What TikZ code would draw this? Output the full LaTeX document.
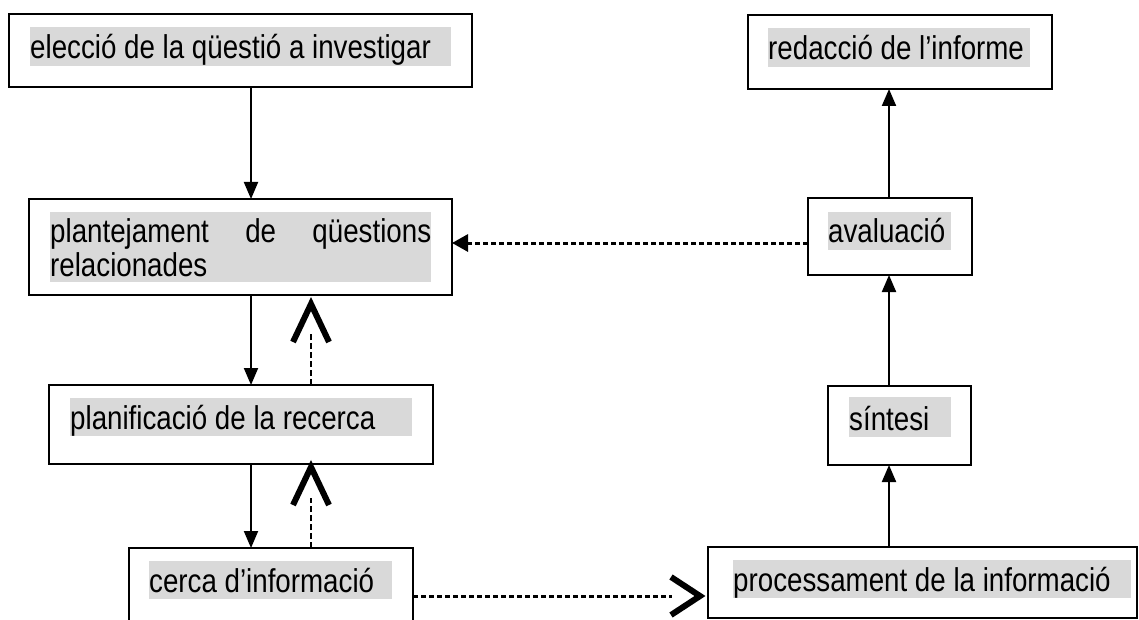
\documentclass[tikz,border=0pt]{standalone}
\usepackage{fontspec}
\setmainfont{Liberation Sans}
\newfontfamily\boxfont[FakeStretch=0.84]{Liberation Sans}
\usetikzlibrary{arrows.meta,calc}
\definecolor{hlgray}{RGB}{217,217,217}
\begin{document}
\begin{tikzpicture}[x=1pt,y=-1pt,
  box/.style={draw, line width=1.8pt, inner sep=0pt, outer sep=0pt, anchor=north west},
  txt/.style={inner sep=0pt, anchor=base west, font=\boxfont\fontsize{33}{36}\selectfont, text=black},
  hl/.style={fill=hlgray},
  sarrow/.style={line width=2pt, -{Triangle[length=17pt,width=14pt]}},
  dthin/.style={line width=1.2pt, dash pattern=on 6pt off 3pt},
  chev/.style={line width=6pt, line join=miter, line cap=butt},
  dthick/.style={line width=3pt, dash pattern=on 5pt off 3pt},
]
\useasboundingbox (0,0) rectangle (1139,620);
\clip (0,0) rectangle (1139,620);
\fill[white] (0,0) rectangle (1139,620);

% boxes
\node[box, minimum width=463pt, minimum height=73pt] (b1) at (9,14) {};
\node[box, minimum width=423pt, minimum height=96pt] (b2) at (29,199) {};
\node[box, minimum width=384pt, minimum height=79pt] (b3) at (49,385) {};
\node[box, minimum width=284pt, minimum height=85pt] (b4) at (129,548) {};
\node[box, minimum width=429pt, minimum height=71pt] (b5) at (708,547) {};
\node[box, minimum width=143pt, minimum height=79pt] (b6) at (828,386) {};
\node[box, minimum width=164pt, minimum height=77pt] (b7) at (808,198) {};
\node[box, minimum width=304pt, minimum height=74pt] (b8) at (748,15) {};

% highlights
\fill[hl] (30,27) rectangle (451,66);
\fill[hl] (50,212) rectangle (431,282);
\fill[hl] (70,398) rectangle (412,436);
\fill[hl] (149,561) rectangle (392,599);
\fill[hl] (733,560) rectangle (1131,598);
\fill[hl] (849,397) rectangle (951,437);
\fill[hl] (828,212) rectangle (951,250);
\fill[hl] (768,28) rectangle (1030,67);

% texts
\node[txt] (t1) at (30,59) {elecció de la qüestió a investigar};
\node[txt] (t2a) at (50,243) {\makebox[381pt][s]{plantejament de qüestions}};
\node[txt] (t2b) at (50,276) {relacionades};
\node[txt] (t3) at (70,429) {planificació de la recerca};
\node[txt] (t4) at (149,592) {cerca d’informació};
\node[txt] (t5) at (733,591) {processament de la informació};
\node[txt] (t6) at (849,430) {síntesi};
\node[txt] (t7) at (828,243) {avaluació};
\node[txt] (t8) at (768,60) {redacció de l’informe};

% guide coordinates
\coordinate (cL) at (251,0);
\coordinate (cD) at (311,0);
\coordinate (cR) at (889,0);
\coordinate (rQ) at (0,243);
\coordinate (rP) at (0,596);

% left column
\draw[sarrow] (b1.south -| cL) -- (b2.north -| cL);
\draw[sarrow] (b2.south -| cL) -- (b3.north -| cL);
\draw[sarrow] (b3.south -| cL) -- (b4.north -| cL);

\draw[dthin] (b3.north -| cD) -- ($(b2.south -| cD)+(0,38)$);
\draw[chev] ($(b2.south -| cD)+(-18,47)$) -- ($(b2.south -| cD)+(0,9)$) -- ($(b2.south -| cD)+(18,47)$);
\draw[dthin] (b4.north -| cD) -- ($(b3.south -| cD)+(0,34)$);
\draw[chev] ($(b3.south -| cD)+(-18,41)$) -- ($(b3.south -| cD)+(0,3)$) -- ($(b3.south -| cD)+(18,41)$);

% bottom link
\draw[dthick] (b4.east |- rP) -- ($(b5.west |- rP)+(-36,0)$);
\draw[chev] ($(b5.west |- rP)+(-37,-19)$) -- ($(b5.west |- rP)+(-8,0)$) -- ($(b5.west |- rP)+(-37,19)$);

% feedback from avaluacio
\draw[dthick, -{Triangle[length=16pt,width=17pt]}] (b7.west |- rQ) -- (b2.east |- rQ);

% right column
\draw[sarrow] (b5.north -| cR) -- (b6.south -| cR);
\draw[sarrow] (b6.north -| cR) -- (b7.south -| cR);
\draw[sarrow] (b7.north -| cR) -- (b8.south -| cR);
\end{tikzpicture}
\end{document}
